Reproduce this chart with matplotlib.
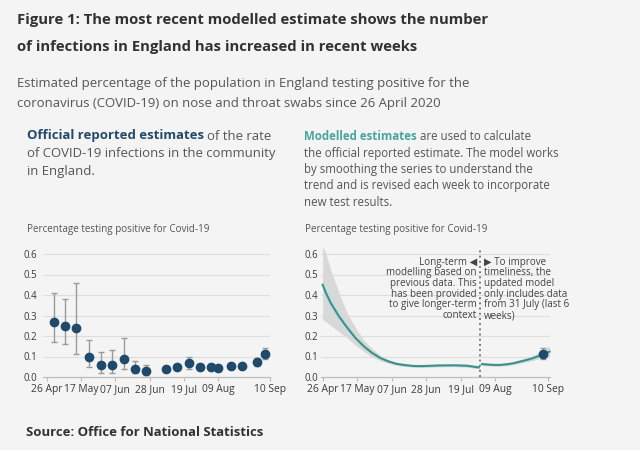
import matplotlib
matplotlib.use('Agg')
import matplotlib.pyplot as plt
import matplotlib.dates as mdates
import pandas as pd

W, H = 640, 450
BG = '#f4f4f4'
FONT = ['Open Sans', 'DejaVu Sans']
plt.rcParams['font.family'] = FONT

# ---------------- data ----------------
tick_dates = ['2020-04-26', '2020-05-17', '2020-06-07', '2020-06-28',
              '2020-07-19', '2020-08-09', '2020-09-10']
tick_labels = ['26 Apr', '17 May', '07 Jun', '28 Jun', '19 Jul', '09 Aug', '10 Sep']
y_ticks = [0.0, 0.1, 0.2, 0.3, 0.4, 0.5, 0.6]
y_tick_labels = ['0.0', '0.1', '0.2', '0.3', '0.4', '0.5', '0.6']

official_dates = ['2020-04-30', '2020-05-07', '2020-05-14', '2020-05-22', '2020-05-29',
                  '2020-06-05', '2020-06-12', '2020-06-19', '2020-06-26', '2020-07-08',
                  '2020-07-15', '2020-07-22', '2020-07-29', '2020-08-05', '2020-08-09',
                  '2020-08-17', '2020-08-24', '2020-09-02', '2020-09-07']
official_value = [0.27, 0.25, 0.24, 0.10, 0.06, 0.06, 0.09, 0.04, 0.03, 0.04,
                  0.05, 0.07, 0.05, 0.05, 0.045, 0.052, 0.052, 0.072, 0.11]
official_lower = [0.17, 0.16, 0.11, 0.05, 0.02, 0.02, 0.04, 0.02, 0.01, 0.03,
                  0.04, 0.04, 0.035, 0.035, 0.035, 0.045, 0.045, 0.055, 0.09]
official_upper = [0.41, 0.38, 0.46, 0.18, 0.12, 0.13, 0.19, 0.08, 0.06, 0.05,
                  0.065, 0.10, 0.065, 0.065, 0.06, 0.06, 0.06, 0.095, 0.14]

longterm_dates = ['2020-04-26', '2020-04-28', '2020-05-01', '2020-05-06', '2020-05-11',
                  '2020-05-16', '2020-05-21', '2020-05-26', '2020-05-31', '2020-06-05',
                  '2020-06-10', '2020-06-15', '2020-06-20', '2020-06-25', '2020-07-05',
                  '2020-07-15', '2020-07-23', '2020-07-27', '2020-07-30']
longterm_mid = [0.45, 0.41, 0.36, 0.295, 0.24, 0.19, 0.15, 0.118, 0.093, 0.076,
                0.064, 0.058, 0.054, 0.053, 0.056, 0.057, 0.055, 0.05, 0.047]
longterm_grey_hi = [0.64, 0.60, 0.52, 0.41, 0.31, 0.24, 0.18, 0.14, 0.105, 0.085,
                    0.072, 0.065, 0.06, 0.059, 0.062, 0.063, 0.062, 0.058, 0.057]
longterm_grey_lo = [0.28, 0.27, 0.25, 0.22, 0.19, 0.155, 0.125, 0.098, 0.08, 0.067,
                    0.057, 0.051, 0.048, 0.047, 0.05, 0.051, 0.048, 0.043, 0.039]
longterm_teal_hi = [0.48, 0.44, 0.385, 0.315, 0.256, 0.203, 0.161, 0.127, 0.101, 0.083,
                    0.070, 0.064, 0.060, 0.059, 0.062, 0.063, 0.061, 0.056, 0.053]
longterm_teal_lo = [0.42, 0.385, 0.335, 0.275, 0.224, 0.177, 0.139, 0.109, 0.085, 0.069,
                    0.058, 0.052, 0.048, 0.047, 0.050, 0.051, 0.049, 0.044, 0.041]

recent_dates = ['2020-08-01', '2020-08-04', '2020-08-08', '2020-08-12', '2020-08-16',
                '2020-08-20', '2020-08-24', '2020-08-28', '2020-09-01', '2020-09-05',
                '2020-09-09', '2020-09-11']
recent_mid = [0.063, 0.061, 0.059, 0.059, 0.062, 0.067, 0.075, 0.083, 0.092, 0.104, 0.117, 0.124]
recent_grey_hi = [0.070, 0.068, 0.066, 0.066, 0.069, 0.075, 0.084, 0.094, 0.106, 0.122, 0.142, 0.152]
recent_grey_lo = [0.056, 0.054, 0.052, 0.052, 0.055, 0.060, 0.067, 0.074, 0.081, 0.090, 0.098, 0.100]
recent_teal_hi = [0.067, 0.065, 0.063, 0.063, 0.066, 0.071, 0.080, 0.089, 0.099, 0.112, 0.127, 0.135]
recent_teal_lo = [0.059, 0.057, 0.055, 0.055, 0.058, 0.063, 0.070, 0.077, 0.085, 0.096, 0.107, 0.113]

cutoff_date = '2020-07-31'

# ---------------- helpers ----------------
def d(lst):
    return mdates.date2num(pd.to_datetime(lst))

fig = plt.figure(figsize=(W / 100, H / 100), dpi=100, facecolor=BG)

def T(x, y, s, **kw):
    return fig.text(x / W, 1 - y / H, s, **kw)

fig.canvas.draw()
R = fig.canvas.get_renderer()

def wpx(t):
    return t.get_window_extent(R).width

def fit(texts, ref, target):
    fs = ref.get_fontsize() * target / wpx(ref)
    for t in texts:
        t.set_fontsize(fs)
    return fs

# ---------------- header text ----------------
DARK = '#323232'
GREY = '#555555'
t1 = T(17, 20, 'Figure 1: The most recent modelled estimate shows the number',
       fontweight='bold', color=DARK, va='center', fontsize=11)
t2 = T(17, 47, 'of infections in England has increased in recent weeks',
       fontweight='bold', color=DARK, va='center', fontsize=11)
fit([t1, t2], t1, 474)

s1 = T(17, 83, 'Estimated percentage of the population in England testing positive for the',
       color=GREY, va='center', fontsize=9)
s2 = T(17, 103, 'coronavirus (COVID-19) on nose and throat swabs since 26 April 2020',
       color=GREY, va='center', fontsize=9)
fit([s1, s2], s1, 455)

NAVY = '#234a6b'
TEAL = '#48a49f'

# left description
l2 = T(27, 154, 'of COVID-19 infections in the community', color=GREY, va='center', fontsize=9)
l3 = T(27, 172, 'in England.', color=GREY, va='center', fontsize=9)
fsl = fit([l2, l3], l2, 250)
lb = T(27, 136, 'Official reported estimates', color=NAVY, fontweight='bold',
       va='center', fontsize=fsl)
lr = T(27 + wpx(lb) + 3, 136, 'of the rate', color=GREY, va='center', fontsize=fsl)

# right description
r_lines = ['the official reported estimate. The model works',
           'by smoothing the series to understand the',
           'trend and is revised each week to incorporate',
           'new test results.']
r_ys = [153, 169.5, 186, 202]
rts = [T(304, y, s, color=GREY, va='center', fontsize=8) for s, y in zip(r_lines, r_ys)]
fsr = fit(rts, rts[0], 256)
rb = T(304, 136.5, 'Modelled estimates', color=TEAL, fontweight='bold', va='center', fontsize=fsr)
rr = T(304 + wpx(rb) + 3, 136.5, 'are used to calculate', color=GREY, va='center', fontsize=fsr)

# chart labels
c1 = T(27, 230, 'Percentage testing positive for Covid-19', color=GREY, va='center', fontsize=7)
fsc = fit([c1], c1, 183)
c2 = T(305, 230, 'Percentage testing positive for Covid-19', color=GREY, va='center', fontsize=fsc)

src = T(26, 433, 'Source: Office for National Statistics', color=DARK,
        fontweight='bold', va='center', fontsize=9)
fit([src], src, 238)

# tick font sizes
tmp = T(0.5, 0.5, '07 Jun', fontsize=9)
xtick_fs = fit([tmp], tmp, 30)
tmp.remove()
tmp = T(0.5, 0.5, '0.6', fontsize=9)
ytick_fs = fit([tmp], tmp, 13.5)
tmp.remove()

# ---------------- axes ----------------
y_bottom, y_top = 377, 248
ymax = 0.6 * (y_bottom - y_top) / (y_bottom - 254)

def make_ax(x0, x1, xlim):
    ax = fig.add_axes([x0 / W, 1 - y_bottom / H, (x1 - x0) / W, (y_bottom - y_top) / H])
    ax.set_facecolor('none')
    ax.set_ylim(0, ymax)
    ax.set_xlim(*xlim)
    for s in ['top', 'right', 'left']:
        ax.spines[s].set_visible(False)
    ax.spines['bottom'].set_color('#bdbdbd')
    ax.spines['bottom'].set_linewidth(0.9)
    ax.set_yticks(y_ticks)
    ax.set_yticklabels(y_tick_labels)
    ax.set_xticks(d(tick_dates))
    ax.set_xticklabels(tick_labels)
    ax.tick_params(axis='y', length=0, labelsize=ytick_fs, labelcolor='#3a3a3a')
    ax.tick_params(axis='x', length=3, color='#bdbdbd', labelsize=xtick_fs,
                   labelcolor='#3a3a3a', pad=2)
    for yv in y_ticks[1:]:
        ax.axhline(yv, color='#dedede', lw=0.8, zorder=0)
    return ax

base = d(['2020-04-26'])[0]
end = d(['2020-09-10'])[0]

axL = make_ax(43, 270, (base - 2.5, end))
axL.tick_params(axis='y', pad=4)
axR = make_ax(321, 550, (base - 1.0, end + 1.3))
axR.tick_params(axis='y', pad=2)

POINT = '#1f4a6b'
ERR = '#9a9a9a'

od = d(official_dates)
ov = official_value
yerr = [[v - lo for v, lo in zip(ov, official_lower)],
        [hi - v for v, hi in zip(ov, official_upper)]]
axL.errorbar(od, ov, yerr=yerr, fmt='o', color=POINT, ecolor=ERR, elinewidth=1.0,
             capsize=2, capthick=1.0, markersize=6, zorder=3)

# right chart
LINE = '#3f8f8b'
ld = d(longterm_dates)
axR.fill_between(ld, longterm_grey_lo, longterm_grey_hi, color='#d8d8d8', lw=0, zorder=1)
axR.fill_between(ld, longterm_teal_lo, longterm_teal_hi, color='#bfe0df', lw=0, zorder=2)
axR.plot(ld, longterm_mid, color=LINE, lw=1.5, zorder=3)

rd = d(recent_dates)
axR.fill_between(rd, recent_grey_lo, recent_grey_hi, color='#d8d8d8', lw=0, zorder=1,
                 clip_on=False)
axR.fill_between(rd, recent_teal_lo, recent_teal_hi, color='#bfe0df', lw=0, zorder=2,
                 clip_on=False)
axR.plot(rd, recent_mid, color=LINE, lw=1.5, zorder=3, clip_on=False)

last = len(official_dates) - 1
axR.errorbar([od[last]], [ov[last]],
             yerr=[[yerr[0][last]], [yerr[1][last]]], fmt='o', color=POINT,
             ecolor=ERR, elinewidth=1.0, capsize=2, capthick=1.0, markersize=6, zorder=4)

cx = d([cutoff_date])[0]
axR.plot([cx, cx], [0, ymax], color='#555555', lw=1.1, ls=(0, (1.2, 2.2)), zorder=5,
         clip_on=False)

# annotation
left_ann = ['Long-term \u25C0', 'modelling based on', 'previous data. This',
            'has been provided', 'to give longer-term', 'context']
right_ann = ['\u25B6 To improve', 'timeliness, the', 'updated model',
             'only includes data', 'from 31 July (last 6', 'weeks)']
ann_ys = [262, 273, 283.5, 294, 305, 316]
la = [T(477, y, s, ha='right', va='center', color='#444444', fontsize=7, family=FONT)
      for s, y in zip(left_ann, ann_ys)]
ra = [T(484, y, s, ha='left', va='center', color='#444444', fontsize=7, family=FONT)
      for s, y in zip(right_ann, ann_ys)]
fsa = fit(la + ra, la[1], 91)

fig.savefig('out.png', dpi=100, facecolor=BG)
